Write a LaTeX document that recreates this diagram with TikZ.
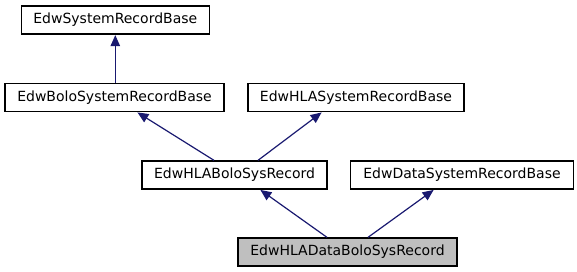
\documentclass[tikz,border=0pt]{standalone}
\usepackage{fontspec}
\setmainfont{DejaVu Sans}
\usetikzlibrary{arrows.meta}
\definecolor{edgeblue}{HTML}{191970}
\definecolor{curfill}{HTML}{BFBFBF}
\tikzset{
  cls/.style={draw=black, line width=1.3pt, fill=white, minimum height=28pt,
    inner sep=0pt, font=\fontsize{14}{16}\selectfont},
  cur/.style={cls, fill=curfill},
  inherit/.style={draw=edgeblue, line width=1.2pt,
    -{Triangle[length=11pt,width=9.5pt]}, shorten >=0.5pt}
}
\begin{document}
\begin{tikzpicture}[x=1pt,y=-1pt]
\useasboundingbox (0,0) rectangle (577,272);
\node[cls, minimum width=188pt] (sysbase) at (115.3,20) {EdwSystemRecordBase};
\node[cls, minimum width=219pt] (bolobase) at (114.5,97.5) {EdwBoloSystemRecordBase};
\node[cls, minimum width=216pt] (hlabase) at (356,97.5) {EdwHLASystemRecordBase};
\node[cls, minimum width=185pt] (hlabolo) at (234.5,175) {EdwHLABoloSysRecord};
\node[cls, minimum width=223pt] (database) at (462,175) {EdwDataSystemRecordBase};
\node[cur, minimum width=219pt] (hladata) at (347.5,252) {EdwHLADataBoloSysRecord};

\draw[inherit] (bolobase.north -| sysbase.south) -- (sysbase.south);
\draw[inherit] ([xshift=-20.5pt]hlabolo.north) -- ([xshift=22.5pt]bolobase.south);
\draw[inherit] ([xshift=23.5pt]hlabolo.north) -- ([xshift=-34pt]hlabase.south);
\draw[inherit] ([xshift=-20.5pt]hladata.north) -- ([xshift=25.5pt]hlabolo.south);
\draw[inherit] ([xshift=20.5pt]hladata.north) -- ([xshift=-28pt]database.south);
\end{tikzpicture}
\end{document}
